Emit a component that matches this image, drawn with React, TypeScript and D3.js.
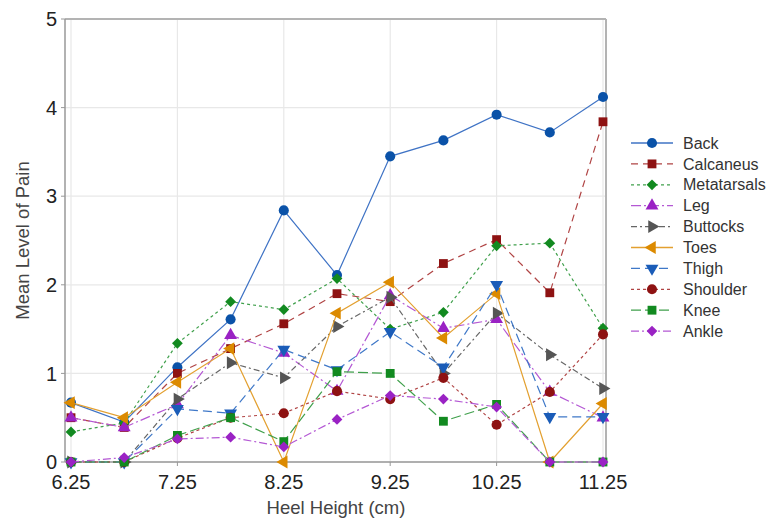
import React from 'react'
import * as d3 from 'd3'

const heights = [6.25, 6.75, 7.25, 7.75, 8.25, 8.75, 9.25, 9.75, 10.25, 10.75, 11.25]
const xTicks = [6.25, 7.25, 8.25, 9.25, 10.25, 11.25]
const yTicks = [0, 1, 2, 3, 4, 5]

const back = [0.67, 0.45, 1.07, 1.61, 2.84, 2.11, 3.45, 3.63, 3.92, 3.72, 4.12]
const calcaneus = [0.5, 0.39, 1.0, 1.28, 1.56, 1.9, 1.81, 2.24, 2.51, 1.91, 3.84]
const metatarsals = [0.34, 0.44, 1.34, 1.81, 1.72, 2.07, 1.5, 1.69, 2.44, 2.47, 1.51]
const leg = [0.5, 0.39, 0.65, 1.43, 1.23, 0.8, 1.88, 1.51, 1.61, 0.79, 0.5]
const buttocks = [0, 0, 0.71, 1.12, 0.95, 1.53, 1.86, 1.0, 1.68, 1.21, 0.83]
const toes = [0.67, 0.5, 0.9, 1.28, 0, 1.68, 2.03, 1.4, 1.9, 0, 0.66]
const thigh = [0, 0, 0.6, 0.55, 1.27, 1.04, 1.47, 1.07, 2.0, 0.51, 0.51]
const shoulder = [0, 0, 0.27, 0.5, 0.55, 0.8, 0.71, 0.95, 0.42, 0.79, 1.44]
const knee = [0, 0, 0.3, 0.5, 0.23, 1.02, 1.0, 0.46, 0.65, 0, 0]
const ankle = [0, 0.05, 0.26, 0.28, 0.17, 0.48, 0.75, 0.71, 0.62, 0, 0]

const series = [
  { name: 'Back', values: back, color: '#0a52a8', line: '#3f73c5', dash: '', shape: 'circle' },
  { name: 'Calcaneus', values: calcaneus, color: '#8e1212', line: '#b04444', dash: '7,5', shape: 'square' },
  { name: 'Metatarsals', values: metatarsals, color: '#128a20', line: '#40a04c', dash: '3,3', shape: 'diamond' },
  { name: 'Leg', values: leg, color: '#9a22c4', line: '#b458d4', dash: '10,3,2,3', shape: 'up' },
  { name: 'Buttocks', values: buttocks, color: '#555555', line: '#666666', dash: '6,3,2,3', shape: 'right' },
  { name: 'Toes', values: toes, color: '#dc8a00', line: '#e3a030', dash: '', shape: 'left' },
  { name: 'Thigh', values: thigh, color: '#1a5cb8', line: '#3f78c8', dash: '9,5', shape: 'down' },
  { name: 'Shoulder', values: shoulder, color: '#8e1212', line: '#b04444', dash: '3,3', shape: 'circle' },
  { name: 'Knee', values: knee, color: '#128a20', line: '#40a04c', dash: '10,4', shape: 'square' },
  { name: 'Ankle', values: ankle, color: '#9a22c4', line: '#b458d4', dash: '8,3,2,3', shape: 'diamond' },
]

const W = 769, H = 519
const left = 65, right = 606, top = 19, bottom = 462
const font = '"Liberation Sans", Arial, sans-serif'

const markerPath = (shape: string) => {
  if (shape === 'circle') return d3.symbol(d3.symbolCircle, 80)()
  if (shape === 'square') return d3.symbol(d3.symbolSquare, 78)()
  if (shape === 'diamond') return d3.symbol(d3.symbolSquare, 58)()
  return d3.symbol(d3.symbolTriangle, 72)()
}
const markerRotate = (shape: string) =>
  ({ diamond: 45, up: 0, right: 90, down: 180, left: 270 } as any)[shape] || 0

const Marker = ({ x, y, s }: any) => (
  <path
    d={markerPath(s.shape) as string}
    transform={`translate(${x},${y}) rotate(${markerRotate(s.shape)})`}
    fill={s.color}
  />
)

const App = () => {
  const x = d3.scaleLinear().domain([6.25, 11.25]).range([71, 603])
  const y = d3.scaleLinear().domain([0, 5]).range([bottom, top])
  const line = d3.line<number>().x((_, i) => x(heights[i])).y(d => y(d))

  return (
    <svg width={W} height={H} style={{ position: 'absolute', left: 0, top: 0, background: '#fff' }}>
      {xTicks.map(t => (
        <line key={'gx' + t} x1={x(t)} x2={x(t)} y1={top} y2={bottom} stroke="#e8e8e8" strokeWidth={1.2} />
      ))}
      {yTicks.map(t => (
        <line key={'gy' + t} x1={left} x2={right} y1={y(t)} y2={y(t)} stroke="#e8e8e8" strokeWidth={1.2} />
      ))}
      <line x1={left} x2={right} y1={top} y2={top} stroke="#b3b3b3" strokeWidth={2} />
      <line x1={right} x2={right} y1={top} y2={bottom} stroke="#b3b3b3" strokeWidth={2} />
      <line x1={left} x2={left} y1={top} y2={bottom} stroke="#999" strokeWidth={1.5} />
      <line x1={left} x2={right} y1={bottom} y2={bottom} stroke="#999" strokeWidth={1.5} />
      {yTicks.map(t => (
        <g key={'ty' + t}>
          <line x1={left - 4} x2={left} y1={y(t)} y2={y(t)} stroke="#999" />
          <text x={57} y={y(t)} dy="0.36em" textAnchor="end" fontFamily={font} fontSize={20} fill="#222">{t}</text>
        </g>
      ))}
      {xTicks.map(t => (
        <g key={'tx' + t}>
          <line x1={x(t)} x2={x(t)} y1={bottom} y2={bottom + 4} stroke="#999" />
          <text x={x(t)} y={489} textAnchor="middle" fontFamily={font} fontSize={20} fill="#222">{t.toFixed(2)}</text>
        </g>
      ))}
      <text x={336} y={514} textAnchor="middle" fontFamily={font} fontSize={18.5} fill="#444">Heel Height (cm)</text>
      <text transform={`translate(29,${(top + bottom) / 2}) rotate(-90)`} textAnchor="middle" fontFamily={font} fontSize={18.5} fill="#444">Mean Level of Pain</text>

      {series.map(s => (
        <g key={s.name}>
          <path d={line(s.values) as string} fill="none" stroke={s.line} strokeWidth={1.2} strokeDasharray={s.dash} />
          {s.values.map((v, i) => (
            <Marker key={i} x={x(heights[i])} y={y(v)} s={s} />
          ))}
        </g>
      ))}

      {series.map((s, i) => {
        const ly = 143 + i * 20.9
        return (
          <g key={'lg' + s.name}>
            <line x1={631} x2={673} y1={ly} y2={ly} stroke={s.line} strokeWidth={1.3} strokeDasharray={s.dash} />
            <Marker x={652} y={ly} s={s} />
            <text x={683} y={ly} dy="0.35em" fontFamily={font} fontSize={16} fill="#333">{s.name}</text>
          </g>
        )
      })}
    </svg>
  )
}

export default App
